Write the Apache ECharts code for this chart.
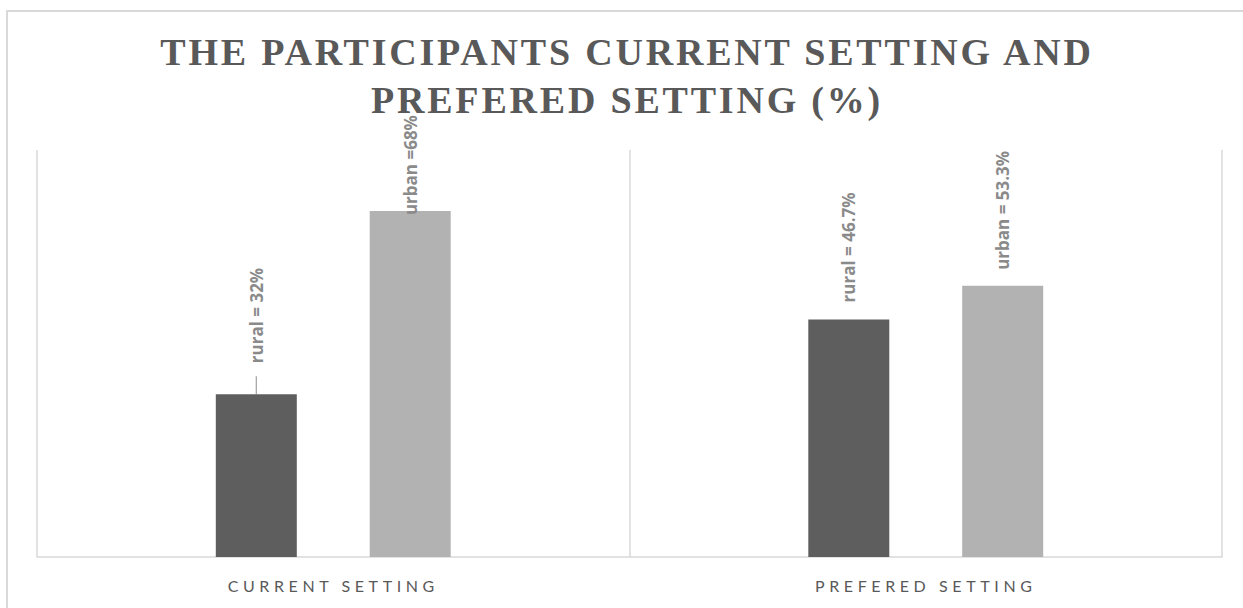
<!DOCTYPE html>
<html>
<head>
<meta charset="utf-8">
<script src="https://cdn.jsdelivr.net/npm/echarts@6/dist/echarts.min.js"></script>
<style>
  html, body { margin: 0; padding: 0; background: #ffffff; }
  #chart { width: 1243px; height: 608px; }
  /* tracking for the title and the category labels */
  #chart text[style*="Liberation Serif"], #chart text[font-family*="Liberation Serif"] { letter-spacing: 2.8px; }
  #chart text[style*="Lato"], #chart text[font-family*="Lato"] { letter-spacing: 4.6px; }
</style>
</head>
<body>
<div id="chart"></div>
<script>
// Setting categories and share of participants (%)
const categories = ['CURRENT SETTING', 'PREFERED SETTING'];
const ruralValues = [32, 46.7];
const urbanValues = [68, 53.3];
// label text placed before each value
const ruralPrefixes = ['rural = ', 'rural = '];
const urbanPrefixes = ['urban =', 'urban = '];

const titleText = 'THE PARTICIPANTS CURRENT SETTING AND\nPREFERED SETTING (%)';

const labelBase = {
  show: true,
  position: 'top',
  rotate: 90,
  align: 'left',
  verticalAlign: 'middle',
  color: '#8a8a8a',
  fontFamily: 'Open Sans',
  fontWeight: 'bold',
  fontSize: 17
};

// per-bar label gap above the bar top; a leader line joins a label lifted well clear of its bar
const ruralGaps = [31, 17];
const urbanGaps = [-4, 16];
const leaderGap = 13;

function buildData(values, prefixes, gaps) {
  return values.map((v, i) => {
    const lifted = gaps[i] > 20;
    const label = Object.assign({}, labelBase, {
      distance: lifted ? gaps[i] - leaderGap : gaps[i],
      formatter: prefixes[i] + v + '%'
    });
    if (lifted) {
      // the transparent box keeps the leader line short of the text
      label.padding = [0, 0, 0, leaderGap];
      label.backgroundColor = 'transparent';
    }
    return {
      value: v,
      label: label,
      labelLine: { show: lifted, length2: 0, lineStyle: { color: '#a0a0a0', width: 1.2 } }
    };
  });
}

const chart = echarts.init(document.getElementById('chart'), null, { renderer: 'svg' });

chart.setOption({
  backgroundColor: '#ffffff',
  animation: false,
  title: {
    text: titleText,
    left: 627,
    textAlign: 'center',
    top: 28,
    padding: 0,
    textStyle: {
      fontFamily: 'Liberation Serif',
      fontWeight: 'bold',
      fontSize: 38,
      lineHeight: 48,
      color: '#595959'
    }
  },
  graphic: [{
    type: 'rect',
    silent: true,
    z: -1,
    shape: { x: 7, y: 11, width: 1300, height: 700 },
    style: { fill: 'none', stroke: '#d9d9d9', lineWidth: 2 }
  }],
  grid: { left: 37, right: 21, top: 150, bottom: 51 },
  xAxis: {
    type: 'category',
    data: categories,
    axisLine: { show: true, lineStyle: { color: '#d9d9d9', width: 1.5 } },
    axisTick: { show: false },
    splitLine: { show: true, lineStyle: { color: '#d9d9d9', width: 1.5 } },
    axisLabel: {
      color: '#595959',
      fontFamily: 'Lato',
      fontSize: 16,
      margin: 20
    }
  },
  yAxis: {
    type: 'value',
    min: 0,
    max: 80,
    show: false,
    splitLine: { show: false }
  },
  series: [
    {
      name: 'rural',
      type: 'bar',
      barWidth: 81,
      barGap: '90%',
      itemStyle: { color: '#5e5e5e' },
      data: buildData(ruralValues, ruralPrefixes, ruralGaps)
    },
    {
      name: 'urban',
      type: 'bar',
      barWidth: 81,
      barGap: '90%',
      itemStyle: { color: '#b2b2b2' },
      data: buildData(urbanValues, urbanPrefixes, urbanGaps)
    }
  ]
});
</script>
</body>
</html>
